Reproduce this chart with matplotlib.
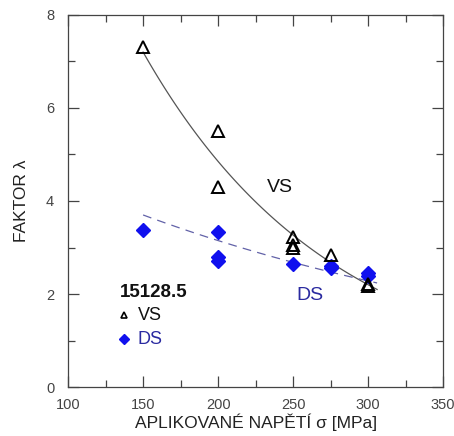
import numpy as np
import matplotlib
matplotlib.use("Agg")
import matplotlib.pyplot as plt
from matplotlib.ticker import MultipleLocator

plt.rcParams['font.family'] = ['Liberation Sans', 'DejaVu Sans']

vs_x = [150, 200, 200, 250, 250, 250, 275, 300, 300]
vs_y = [7.3, 5.5, 4.3, 3.22, 3.05, 2.98, 2.85, 2.22, 2.18]
ds_x = [150, 200, 200, 200, 250, 275, 275, 300, 300]
ds_y = [3.38, 3.33, 2.8, 2.72, 2.65, 2.6, 2.57, 2.45, 2.38]

# exponential trend lines: y = A * exp(B * (x - 150))
vs_fit_A, vs_fit_B = 7.2, -0.0079
ds_fit_A, ds_fit_B = 3.70, -0.00322
fit_range = (150, 306)

fig = plt.figure(figsize=(4.54, 4.36), dpi=100)
ax = fig.add_axes([0.150, 0.112, 0.826, 0.854])

xf = np.linspace(fit_range[0], fit_range[1], 120)
ax.plot(xf, vs_fit_A * np.exp(vs_fit_B * (xf - 150)), color='#555555', lw=0.9, zorder=1)
ax.plot(xf, ds_fit_A * np.exp(ds_fit_B * (xf - 150)), color='#6262a8', lw=0.9,
        ls=(0, (7, 5)), zorder=1)

ax.plot(vs_x, vs_y, ls='none', marker='^', ms=9, mfc='none', mec='black', mew=1.4, zorder=3)
ax.plot(ds_x, ds_y, ls='none', marker='D', ms=7, mfc='#1010ee', mec='#1010ee', zorder=2)

ax.text(241, 4.3, 'VS', fontsize=14, color='#111111', ha='center', va='center')
ax.text(261, 1.98, 'DS', fontsize=14, color='#2a2aa0', ha='center', va='center')

ax.text(134.5, 2.04, '15128.5', fontsize=13.5, fontweight='bold', color='#111111',
        ha='left', va='center')
ax.plot([137], [1.55], ls='none', marker='^', ms=5, mfc='none', mec='black', mew=1.2)
ax.text(146.5, 1.55, 'VS', fontsize=13, color='#111111', ha='left', va='center')
ax.plot([137], [1.03], ls='none', marker='D', ms=5, mfc='#1010ee', mec='#1010ee')
ax.text(146.5, 1.03, 'DS', fontsize=13, color='#2a2aa0', ha='left', va='center')

ax.set_xlim(100, 350)
ax.set_ylim(0, 8)
ax.xaxis.set_major_locator(MultipleLocator(50))
ax.xaxis.set_minor_locator(MultipleLocator(25))
ax.yaxis.set_major_locator(MultipleLocator(2))
ax.yaxis.set_minor_locator(MultipleLocator(1))
ax.tick_params(which='both', direction='in', top=True, right=True, colors='#444444',
               labelcolor='#444444', labelsize=10.5)
ax.tick_params(axis='x', which='major', pad=8)
ax.tick_params(axis='y', which='major', pad=10)
ax.tick_params(which='major', length=8, width=0.9)
ax.tick_params(which='minor', length=5, width=0.9)
for s in ax.spines.values():
    s.set_color('#444444')
    s.set_linewidth(0.9)

ax.set_xlabel('APLIKOVANÉ NAPĚTÍ σ [MPa]', fontsize=12.5, color='#222222', labelpad=1)
ax.set_ylabel('FAKTOR λ', fontsize=12.5, color='#222222', labelpad=12)

fig.savefig('out.png', dpi=100)
